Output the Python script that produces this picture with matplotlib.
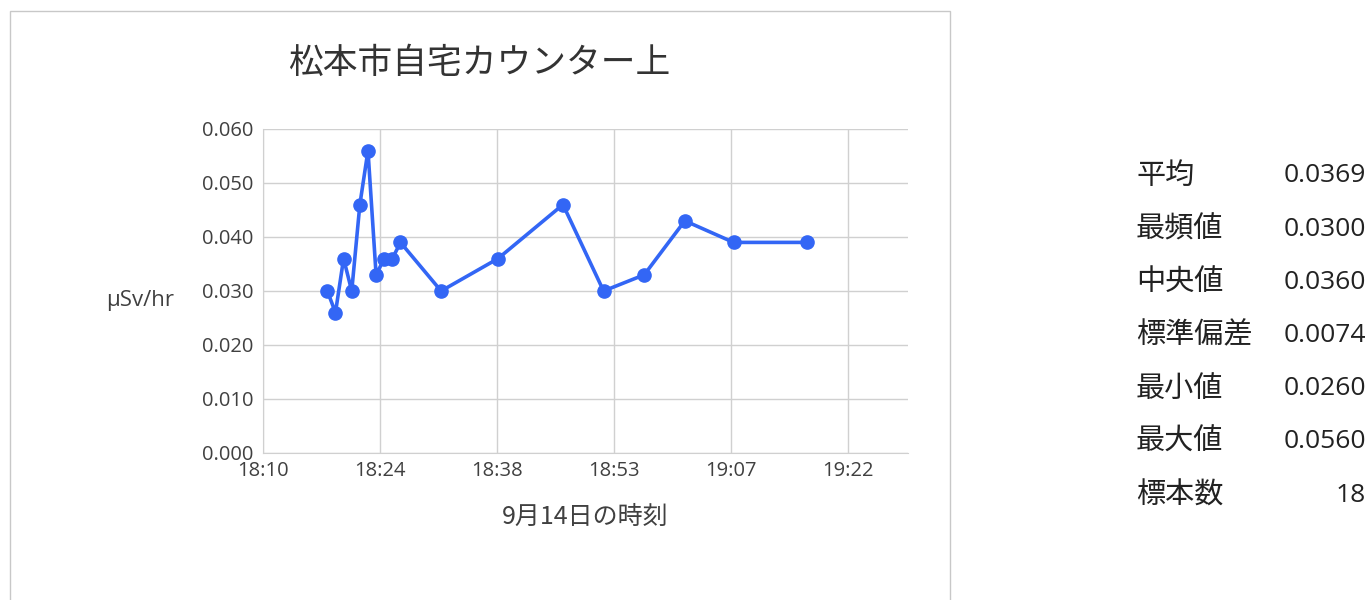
import matplotlib.pyplot as plt
from matplotlib.patches import Rectangle

plt.rcParams['font.family'] = ['Noto Sans CJK JP', 'DejaVu Sans']

# measurement times (9/14) and readings in uSv/hr
times = ['18:18', '18:19', '18:20', '18:21', '18:22', '18:23', '18:24', '18:25', '18:26',
         '18:27', '18:32', '18:39', '18:47', '18:52', '18:57', '19:02', '19:08', '19:17']
values = [0.030, 0.026, 0.036, 0.030, 0.046, 0.056, 0.033, 0.036, 0.036,
          0.039, 0.030, 0.036, 0.046, 0.030, 0.033, 0.043, 0.039, 0.039]

tick_labels = ['18:10', '18:24', '18:38', '18:53', '19:07', '19:22']

stat_names = ['平均', '最頻値', '中央値', '標準偏差', '最小値', '最大値', '標本数']
stat_values = ['0.0369', '0.0300', '0.0360', '0.0074', '0.0260', '0.0560', '18']


def to_min(s):
    h, m = s.split(':')
    return int(h) * 60 + int(m)


x = [to_min(t) for t in times]

# excel style axis: 0.757 day start, 0.01 day major unit
x0 = 0.757 * 1440
step = 0.01 * 1440
ticks = [x0 + step * i for i in range(len(tick_labels))]

fig = plt.figure(figsize=(13.68, 6), dpi=100)
fig.patches.append(Rectangle((10 / 1368, -0.01), 940 / 1368, 1 - 11 / 600 + 0.01,
                             transform=fig.transFigure, fill=False,
                             edgecolor='#c8c8c8', linewidth=1))

ax = fig.add_axes([263 / 1368, 147 / 600, 645 / 1368, 324 / 600])
ax.plot(x, values, color='#3366f5', linewidth=2.6, marker='o', markersize=9.5, zorder=3)

ax.set_xlim(x0, x0 + 645 / 117 * step)
ax.set_ylim(0, 0.06)
ax.set_xticks(ticks)
ax.set_xticklabels(tick_labels)
ax.set_yticks([i * 0.01 for i in range(7)])
ax.set_yticklabels(['%.3f' % (i * 0.01) for i in range(7)])
ax.grid(True, color='#d0d0d0', linewidth=1)
for s in ['top', 'right']:
    ax.spines[s].set_visible(False)
for s in ['left', 'bottom']:
    ax.spines[s].set_color('#d0d0d0')
ax.tick_params(length=0, labelsize=14.5, colors='#404040')
ax.tick_params(axis='x', pad=6)
ax.tick_params(axis='y', pad=7)
for lab in ax.get_xticklabels() + ax.get_yticklabels():
    lab.set_family(['Open Sans', 'DejaVu Sans'])

ax.set_xlabel('9月14日の時刻', fontsize=18, color='#404040', labelpad=16)
ax.set_ylabel('μSv/hr', fontsize=16, color='#404040', rotation=0,
              family=['Open Sans', 'DejaVu Sans'], va='center', ha='center')
ax.yaxis.set_label_coords(-0.19, 0.47)

fig.text(479 / 1368, 1 - 63 / 600, '松本市自宅カウンター上', fontsize=25, color='#333333',
         ha='center', va='center')

for i, (n, v) in enumerate(zip(stat_names, stat_values)):
    y = 1 - (176 + i * 53.2) / 600
    fig.text(1136 / 1368, y, n, fontsize=21, color='#222222', ha='left', va='center')
    fig.text(1366 / 1368, y, v, fontsize=19, color='#222222', ha='right', va='center',
             family=['Open Sans', 'DejaVu Sans'])

fig.savefig('out.png', dpi=100)
